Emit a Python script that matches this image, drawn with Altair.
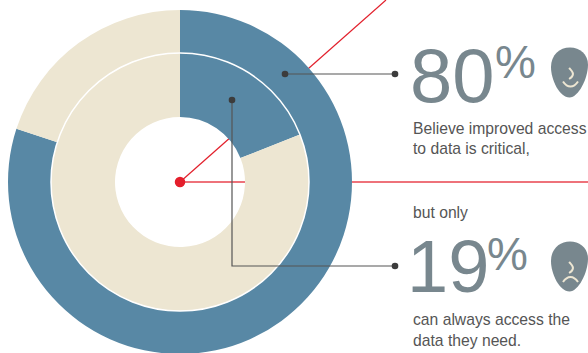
import altair as alt
import pandas as pd

WIDTH, HEIGHT = 588, 353

# Donut shares, in percent
outer_labels = ["Improved access is critical", "Other"]
outer_values = [80, 20]
inner_labels = ["Can always access", "Other"]
inner_values = [19, 81]
ring_colors = ["#5888a5", "#ede6d2"]

# Callout geometry on the page grid
centre_x, centre_y = [180], [182]
red_lines = {"up": ([180, 386], [182, 0]), "flat": ([180, 588], [182, 182])}
leader_top = ([285, 395], [74, 74])
leader_bottom = ([232, 232, 395], [100, 266, 266])

# Text
body_lines = [
    ("Believe improved access", 413, 134),
    ("to data is critical,", 413, 154),
    ("but only", 413, 218),
    ("can always access the", 413, 325),
    ("data they need.", 413, 346),
]
big_numbers = [("80", 410, 102, 76), ("19", 407, 292, 74)]
percent_signs = [("%", 495, 78, 46), ("%", 487, 270, 46)]

# Face outlines, on the -1..1 symbol grid
head_path = "M 0.02 -1 C 0.42 -1 0.74 -0.72 0.74 -0.32 C 0.74 0.25 0.35 1 0 1 C -0.4 1 -0.74 0.3 -0.74 -0.22 C -0.74 -0.7 -0.4 -1 0.02 -1 Z"
nose_path = "M -0.35 -1 C 0 -0.6 0.45 -0.3 0.35 0.15 C 0.3 0.55 0 0.8 -0.35 1"
smile_path = "M -1 -0.4 C -0.4 0.5 0.4 0.5 1 -0.4"
frown_path = "M -1 0.4 C -0.4 -0.5 0.4 -0.5 1 0.4"
faces = [(569.5, 72.5), (569.5, 266.5)]
noses = [(571, 73.5), (571, 267.5)]
mouths = [((570.5, 84.5), smile_path), ((570.5, 279), frown_path)]

x_scale = alt.Scale(domain=[0, WIDTH], range=[0, WIDTH], nice=False, zero=False)
y_scale = alt.Scale(domain=[0, HEIGHT], range=[0, HEIGHT], nice=False, zero=False)
X = alt.X("x:Q", scale=x_scale, axis=None)
Y = alt.Y("y:Q", scale=y_scale, axis=None)


def polyline(xs, ys, color, width):
    df = pd.DataFrame({"x": xs, "y": ys, "i": range(len(xs))})
    return alt.Chart(df).mark_line(color=color, strokeWidth=width, clip=False).encode(
        x=X, y=Y, order="i:O"
    )


def ring(labels, values, outer, inner):
    df = pd.DataFrame({"label": labels, "value": values, "i": range(len(labels))})
    return alt.Chart(df).mark_arc(outerRadius=outer, innerRadius=inner).encode(
        x=alt.X("cx:Q", scale=x_scale, axis=None),
        y=alt.Y("cy:Q", scale=y_scale, axis=None),
        theta=alt.Theta("value:Q", stack=True, scale=alt.Scale(domain=[0, 100], range=[0, 6.283185307])),
        color=alt.Color("i:N", scale=alt.Scale(domain=[0, 1], range=ring_colors), legend=None),
        order="i:O",
    ).transform_calculate(cx=str(centre_x[0]), cy=str(centre_y[0]))


def text_layer(rows, color):
    df = pd.DataFrame(rows, columns=["t", "x", "y", "s"])
    return alt.Chart(df).mark_text(
        align="left", baseline="alphabetic", font="Liberation Sans", color=color
    ).encode(x=X, y=Y, text="t:N", size=alt.Size("s:Q", scale=None, legend=None))


def glyph(pos, path, size, **mark_kw):
    df = pd.DataFrame([{"x": p[0], "y": p[1]} for p in pos])
    return alt.Chart(df).mark_point(shape=path, size=size, opacity=1, **mark_kw).encode(x=X, y=Y)


layers = [
    polyline(*red_lines["up"], "#e2202c", 1.2),
    polyline(*red_lines["flat"], "#e8434e", 1.5),
    ring(outer_labels, outer_values, 172, 129),
    ring(inner_labels, inner_values, 129, 65),
    # White rim around the inner ring
    glyph(list(zip(centre_x, centre_y)), "circle", (2 * 129) ** 2, filled=False, color="#ffffff", strokeWidth=1.5),
    polyline(*leader_top, "#555555", 1.2),
    polyline(*leader_bottom, "#555555", 1.2),
    # Red hub and leader end dots
    glyph([(180, 182)], "circle", 110, filled=True, color="#e41e2b"),
    glyph([(285, 74), (395, 74), (232, 100), (395, 266)], "circle", 44, filled=True, color="#3c3c3c"),
    text_layer(big_numbers, "#78878e"),
    text_layer(percent_signs, "#78878e"),
    text_layer([(t, x, y, 15.7) for t, x, y in body_lines], "#555555"),
    glyph(faces, head_path, 2500, filled=True, color="#78878e"),
]
for p in noses:
    layers.append(glyph([p], nose_path, 121, filled=False, color="#ede6d2", strokeWidth=2))
for p, path in mouths:
    layers.append(glyph([p], path, 225, filled=False, color="#ede6d2", strokeWidth=2))

chart = (
    alt.layer(*layers)
    .properties(width=WIDTH, height=HEIGHT, padding=0, autosize=alt.AutoSizeParams(type="none"), background="#ffffff")
    .configure_view(stroke=None)
)
chart.save("out.html", embed_options={"renderer": "svg", "actions": False})
